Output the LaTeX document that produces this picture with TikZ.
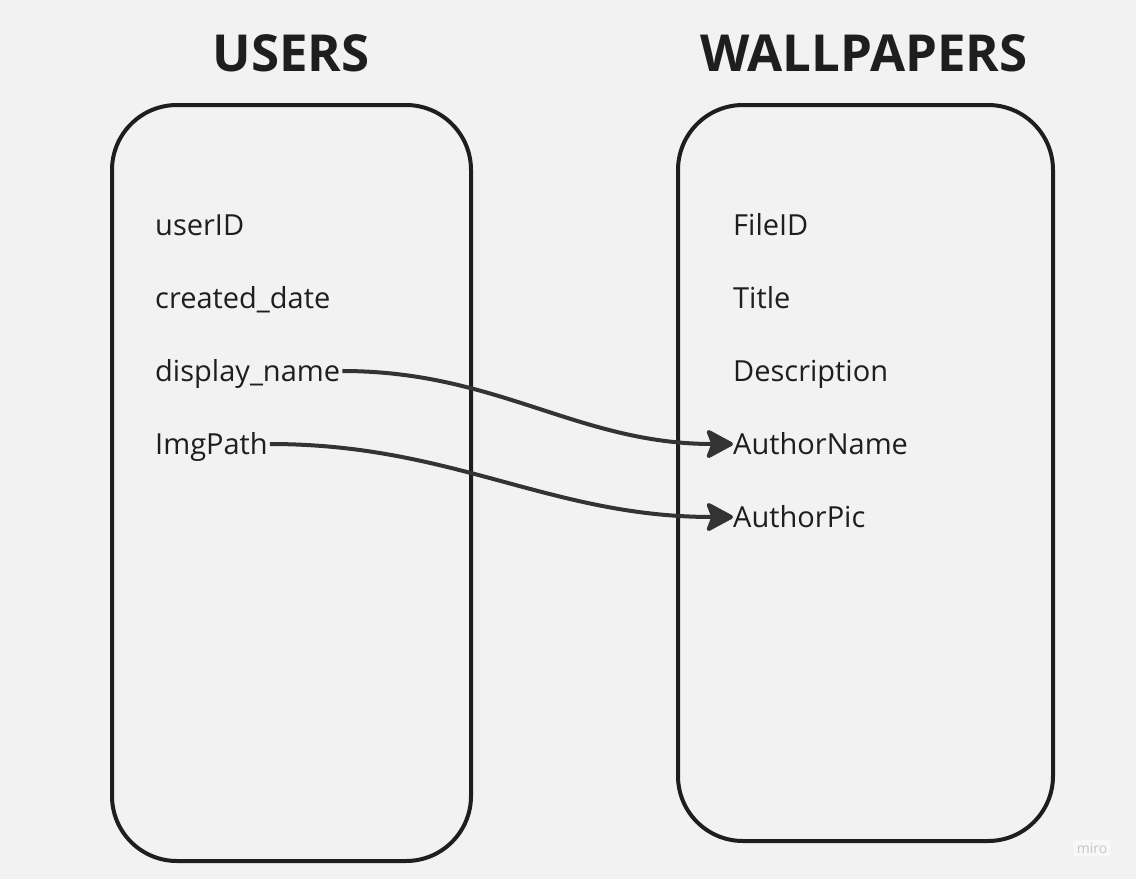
\documentclass[tikz,border=0pt]{standalone}
\usepackage{fontspec}
\setmainfont{Open Sans}
\usetikzlibrary{arrows.meta,calc}
\definecolor{bg}{HTML}{F2F2F2}
\definecolor{ink}{HTML}{1E1E1E}
\definecolor{wire}{HTML}{333333}
\definecolor{logo}{HTML}{C4C4CC}

\begin{document}
\begin{tikzpicture}[x=1pt,y=-1pt]

	\tikzstyle{field} = [anchor=base west,inner sep=0pt,font=\fontsize{29}{33}\selectfont,text=ink]
	\tikzstyle{title} = [font=\fontsize{51}{60}\selectfont\bfseries,text=ink]
	\tikzstyle{table} = [line width=4pt,draw=ink,rounded corners=65pt]
	\tikzstyle{link} = [line width=4pt,draw=wire,-{Stealth[length=30pt,width=32pt,inset=6pt,round]}]

	\useasboundingbox[fill=bg] (0,0) rectangle (1136,879);

	\draw[table] (112,105) rectangle (471,861);
	\draw[table] (678,105) rectangle (1053,841);

	\node[title] (users) at (291,53) {USERS};
	\node[title] (walls) at (864,53) {WALLPAPERS};

	\foreach \name [count=\i] in {userID,created\_date,display\_name,ImgPath}
		\node[field] (u\i) at (155,162+73*\i) {\name};

	\foreach \name [count=\i] in {FileID,Title,Description,AuthorName,AuthorPic}
		\node[field] (w\i) at (733,162+73*\i) {\name};

	\draw[link] ($(u3.base east)+(2,-10)$) to[out=0,in=180] ($(w4.base west)+(0,-10)$);
	\draw[link] ($(u4.base east)+(2,-10)$) to[out=0,in=180] ($(w5.base west)+(0,-10)$);

	\node[fill=white!50!bg,rounded corners=3pt,text=logo,font=\fontsize{14}{16}\selectfont] (miro) at (1092,848) {miro};

\end{tikzpicture}
\end{document}
